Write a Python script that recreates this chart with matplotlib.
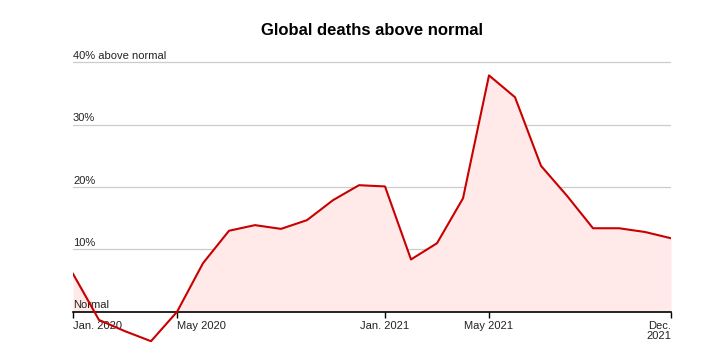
import matplotlib.pyplot as plt
import numpy as np

plt.rcParams['font.family'] = ['Liberation Sans', 'DejaVu Sans']

# monthly values, Jan 2020 .. Dec 2021 (% above normal)
months = ['2020-01', '2020-02', '2020-03', '2020-04', '2020-05', '2020-06',
          '2020-07', '2020-08', '2020-09', '2020-10', '2020-11', '2020-12',
          '2021-01', '2021-02', '2021-03', '2021-04', '2021-05', '2021-06',
          '2021-07', '2021-08', '2021-09', '2021-10', '2021-11', '2021-12']
excess = [6.1, -1.3, -3.1, -4.7, 0.0, 7.8, 13.0, 13.9, 13.3, 14.7, 17.9, 20.3,
          20.1, 8.4, 11.0, 18.2, 37.9, 34.4, 23.4, 18.6, 13.4, 13.4, 12.8, 11.8]

tick_idx = [0, 4, 12, 16, 23]
tick_labels = ['Jan. 2020', 'May 2020', 'Jan. 2021', 'May 2021', 'Dec.\n2021']
tick_ha = ['left', 'left', 'center', 'center', 'right']

grid_vals = [10, 20, 30, 40]
grid_labels = ['10%', '20%', '30%', '40% above normal']

x = np.arange(len(months))
y = np.array(excess)

fig = plt.figure(figsize=(7.05, 3.54), dpi=100)
ax = fig.add_axes([73 / 705, 1 - 349.3 / 354, 598 / 705, (349.3 - 49.8) / 354])
ax.set_xlim(0, 23)
ax.set_ylim(-6, 42)

for v, lab in zip(grid_vals, grid_labels):
    ax.axhline(v, color='#cccccc', lw=0.9, zorder=0)
    ax.text(0, v + 0.25, lab, fontsize=8, ha='left', va='bottom', color='#222222')
ax.text(0, 0.25, 'Normal', fontsize=8, ha='left', va='bottom', color='#222222')

ax.fill_between(x, np.clip(y, 0, None), 0, color='#ffe9e9', lw=0, zorder=1)
ax.plot(x, y, color='#c80000', lw=1.5, zorder=3)

for s in ['top', 'left', 'right']:
    ax.spines[s].set_visible(False)
ax.spines['bottom'].set_position(('data', 0))
ax.spines['bottom'].set_color('black')
ax.spines['bottom'].set_linewidth(1.2)
ax.spines['bottom'].set_zorder(2)
ax.set_yticks([])
ax.set_xticks(tick_idx)
ax.set_xticklabels(tick_labels, fontsize=8, color='#222222', linespacing=1.0)
for lbl, ha in zip(ax.get_xticklabels(), tick_ha):
    lbl.set_ha(ha)
ax.tick_params(axis='x', length=4, width=1.0, pad=2.5)

fig.text(0.527, 0.913, 'Global deaths above normal', fontsize=12,
         fontweight='bold', ha='center', va='center')

fig.savefig('out.png', dpi=100)
